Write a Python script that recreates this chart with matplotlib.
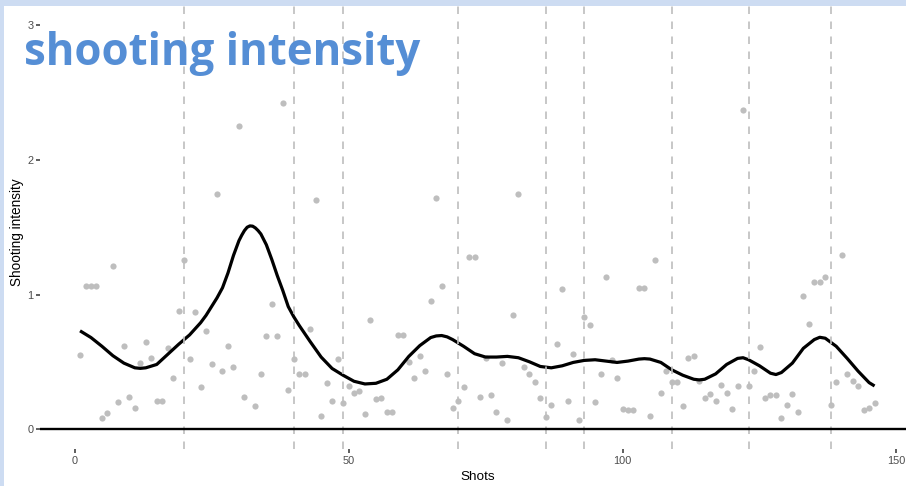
import numpy as np
import matplotlib.pyplot as plt
from matplotlib.patches import Rectangle

# one point per shot (shot 32 sits under the curve peak, not visible)
shots = np.arange(1, 147)
intensity = [
    0.55, 1.06, 1.06, 1.06, 0.08, 0.12, 1.21, 0.20, 0.62, 0.24,
    0.16, 0.49, 0.65, 0.53, 0.21, 0.21, 0.60, 0.38, 0.88, 1.26,
    0.52, 0.87, 0.31, 0.73, 0.48, 1.75, 0.43, 0.62, 0.46, 2.25,
    0.24, np.nan, 0.17, 0.41, 0.69, 0.93, 0.69, 2.42, 0.29, 0.52,
    0.41, 0.41, 0.74, 1.70, 0.10, 0.34, 0.21, 0.52, 0.19, 0.32,
    0.27, 0.28, 0.11, 0.81, 0.22, 0.23, 0.13, 0.13, 0.70, 0.70,
    0.50, 0.38, 0.54, 0.43, 0.95, 1.72, 1.06, 0.41, 0.16, 0.21,
    0.31, 1.28, 1.28, 0.24, 0.53, 0.25, 0.13, 0.49, 0.07, 0.85,
    1.75, 0.46, 0.41, 0.35, 0.23, 0.09, 0.18, 0.63, 1.04, 0.21,
    0.56, 0.07, 0.83, 0.77, 0.20, 0.41, 1.13, 0.51, 0.38, 0.15,
    0.14, 0.14, 1.05, 1.05, 0.10, 1.26, 0.27, 0.43, 0.35, 0.35,
    0.17, 0.53, 0.54, 0.36, 0.23, 0.26, 0.21, 0.33, 0.27, 0.15,
    0.32, 2.37, 0.32, 0.43, 0.61, 0.23, 0.25, 0.25, 0.08, 0.18,
    0.26, 0.13, 0.99, 0.78, 1.09, 1.09, 1.13, 0.18, 0.35, 1.29,
    0.41, 0.36, 0.32, 0.14, 0.16, 0.19,
]

# smoothed intensity curve
curve_x = [1, 3, 5, 7, 9, 11, 12, 13, 15, 17, 19, 21, 23, 24, 25, 26, 27, 28,
           29, 30, 30.5, 31, 31.5, 32, 32.5, 33, 33.5, 34, 35, 36, 37, 38, 39,
           40, 41, 43, 45, 47, 49, 51, 53, 55, 57, 59, 61, 63, 65, 66, 67, 68,
           69, 71, 73, 75, 77, 79, 81, 83, 85, 87, 89, 91, 93, 95, 97, 99, 101,
           103, 104, 105, 107, 109, 111, 113, 114, 115, 117, 119, 121, 122,
           123, 125, 127, 128, 129, 131, 133, 135, 136, 137, 139, 141, 143,
           145, 146]
curve_y = [0.73, 0.68, 0.615, 0.545, 0.49, 0.455, 0.451, 0.455, 0.48, 0.555,
           0.63, 0.70, 0.79, 0.845, 0.91, 0.975, 1.05, 1.16, 1.29, 1.40, 1.44,
           1.475, 1.50, 1.51, 1.508, 1.495, 1.475, 1.45, 1.37, 1.26, 1.14,
           1.03, 0.91, 0.835, 0.77, 0.65, 0.535, 0.45, 0.40, 0.355, 0.335,
           0.34, 0.37, 0.44, 0.54, 0.62, 0.68, 0.692, 0.695, 0.685, 0.665,
           0.615, 0.56, 0.535, 0.535, 0.54, 0.53, 0.50, 0.465, 0.455, 0.47,
           0.495, 0.51, 0.515, 0.505, 0.495, 0.505, 0.52, 0.523, 0.52, 0.495,
           0.44, 0.40, 0.37, 0.365, 0.37, 0.41, 0.48, 0.525, 0.53, 0.515,
           0.47, 0.415, 0.405, 0.42, 0.49, 0.60, 0.665, 0.682, 0.675, 0.615,
           0.525, 0.43, 0.345, 0.32]

breaks = [20, 40, 49, 70, 86, 93, 109, 123, 138]

W, H = 906, 486
fig = plt.figure(figsize=(W / 100, H / 100), dpi=100)
fig.patch.set_facecolor('white')

# panel runs off the right edge of the picture
ax = fig.add_axes([40.3 / W, 36.8 / H, 874 / W, 443.9 / H])
ax.set_facecolor('white')

ax.scatter(shots, intensity, s=20, color='#bebebe', linewidths=0, zorder=2)
ax.plot(curve_x, curve_y, color='black', lw=2.3, solid_capstyle='butt',
        solid_joinstyle='round', zorder=3)
for b in breaks:
    ax.axvline(b, color='#bdbdbd', lw=1.2, ls=(0, (4.5, 4.5)), zorder=4)
ax.axhline(0, color='black', lw=1.7, zorder=5)

ax.set_xlim(-6.25, 153.25)
ax.set_ylim(-0.15, 3.15)
ax.set_xticks([0, 50, 100, 150])
ax.set_yticks([0, 1, 2, 3])
for s in ax.spines.values():
    s.set_visible(False)
ax.tick_params(axis='both', colors='#333333', labelcolor='#4d4d4d',
               labelsize=7.9, length=3, width=1.1, pad=2)
for lab in ax.get_xticklabels() + ax.get_yticklabels():
    lab.set_family('Liberation Sans')

ax.set_xlabel('Shots', fontsize=9.7, family='Liberation Sans', color='black',
              va='center')
ax.xaxis.set_label_coords(0.5, -0.063)
ax.set_ylabel('Shooting intensity', fontsize=9.8, family='Liberation Sans',
              color='black', va='center')
ax.yaxis.set_label_coords(-0.0267, 0.49)

fig.text(24 / W, 1 - 65 / H, 'shooting intensity', fontsize=31.5,
         fontweight='bold', family='Open Sans', color='#558ed5',
         ha='left', va='baseline')

# light blue frame at the top and left
fig.add_artist(Rectangle((0, 1 - 6 / H), 1, 6 / H, transform=fig.transFigure,
                         facecolor='#cddcf2', edgecolor='none', zorder=10))
fig.add_artist(Rectangle((0, 0), 4 / W, 1, transform=fig.transFigure,
                         facecolor='#cddcf2', edgecolor='none', zorder=10))

fig.savefig('out.png', dpi=100)
